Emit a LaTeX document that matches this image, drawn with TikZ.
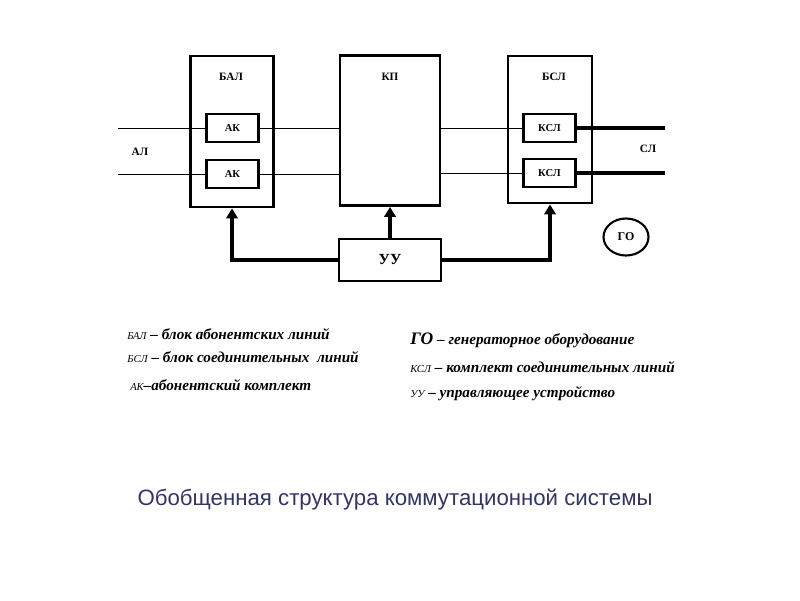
\documentclass[tikz,border=0pt]{standalone}
\usepackage{fontspec}
\setmainfont{Liberation Serif}
\setsansfont{Liberation Sans}
\usetikzlibrary{arrows.meta,shapes.geometric}
\definecolor{titleblue}{HTML}{33336B}
\newcommand{\abbrfont}{\mdseries\itshape\fontsize{7.5}{9}\selectfont}

\begin{document}
\begin{tikzpicture}[
	x=0.025cm, y=-0.025cm,
	block/.style={ draw, line width=2pt, inner sep=0pt },
	unit/.style={ draw, line width=1.5pt, inner sep=0pt, minimum width=1.3cm, minimum height=0.72cm, font=\bfseries\fontsize{7.5}{8}\selectfont },
	tag/.style={ font=\bfseries\fontsize{8}{9}\selectfont, inner sep=0pt },
	wire/.style={ line width=0.7pt },
	trunk/.style={ line width=2.2pt },
	ctrl/.style={ line width=2.2pt, -{Triangle[length=7pt,width=8pt]} },
	note/.style={ anchor=base west, inner sep=0pt, font=\bfseries\itshape\fontsize{10.8}{12}\selectfont }
]
\useasboundingbox (0,0) rectangle (800,600);

% blocks
\node at (232,131.5) (bal) [block, minimum width=2.075cm, minimum height=3.775cm] {};
\node at (390,130.5) (kp) [block, minimum width=2.5cm, minimum height=3.75cm] {};
\node at (550,129.5) (bsl) [block, minimum width=2.1cm, minimum height=3.675cm] {};
\node at (390,260) (uu) [block, minimum width=2.55cm, minimum height=1.05cm, font=\bfseries\fontsize{11}{12}\selectfont] {УУ};
\node at (626,237) (go) [ellipse, draw, line width=1.5pt, inner sep=0pt, minimum width=1.125cm, minimum height=0.925cm, font=\bfseries\fontsize{8.5}{10}\selectfont] {ГО};

\node at (231,77) (baltag) [tag] {БАЛ};
\node at (390,77) (kptag) [tag] {КП};
\node at (554,77) (bsltag) [tag] {БСЛ};
\node at (140,152) (altag) [tag] {АЛ};
\node at (648,149) (sltag) [tag] {СЛ};

\node at (232.5,128) (ak1) [unit] {АК};
\node at (232.5,174) (ak2) [unit] {АК};
\node at (549.5,128) (ksl1) [unit] {КСЛ};
\node at (549.5,173) (ksl2) [unit] {КСЛ};

% line ends
\coordinate (al1) at (118,128);
\coordinate (al2) at (118,174);
\coordinate (sl1) at (665,128);
\coordinate (sl2) at (665,173);

\draw[wire] (al1) -- (ak1.west);
\draw[wire] (al2) -- (ak2.west);
\draw[wire] (ak1.east) -- (ak1.east -| kp.west);
\draw[wire] (ak2.east) -- (ak2.east -| kp.west);
\draw[wire] (ksl1.west -| kp.east) -- (ksl1.west);
\draw[wire] (ksl2.west -| kp.east) -- (ksl2.west);
\draw[trunk] (ksl1.east) -- (sl1);
\draw[trunk] (ksl2.east) -- (sl2);

\draw[ctrl] (uu.north) -- (kp.south);
\draw[ctrl] (uu.west) -| (bal.south);
\draw[ctrl] (uu.east) -| (bsl.south);

% legend
\node at (127,339) (n1) [note] {{\abbrfont БАЛ} – блок абонентских линий};
\node at (127,362) (n2) [note] {{\abbrfont БСЛ} – блок соединительных \ линий};
\node at (130,390) (n3) [note] {{\abbrfont АК}–абонентский комплект};
\node at (410,344) (n4) [note] {{\fontsize{12.5}{14}\selectfont ГО} – генераторное оборудование};
\node at (410,372) (n5) [note] {{\abbrfont КСЛ} – комплект соединительных линий};
\node at (410,397) (n6) [note] {{\abbrfont УУ} – управляющее устройство};

\node at (395,500) (title) [font=\sffamily\fontsize{15.8}{18}\selectfont, text=titleblue] {Обобщенная структура коммутационной системы};
\end{tikzpicture}
\end{document}
